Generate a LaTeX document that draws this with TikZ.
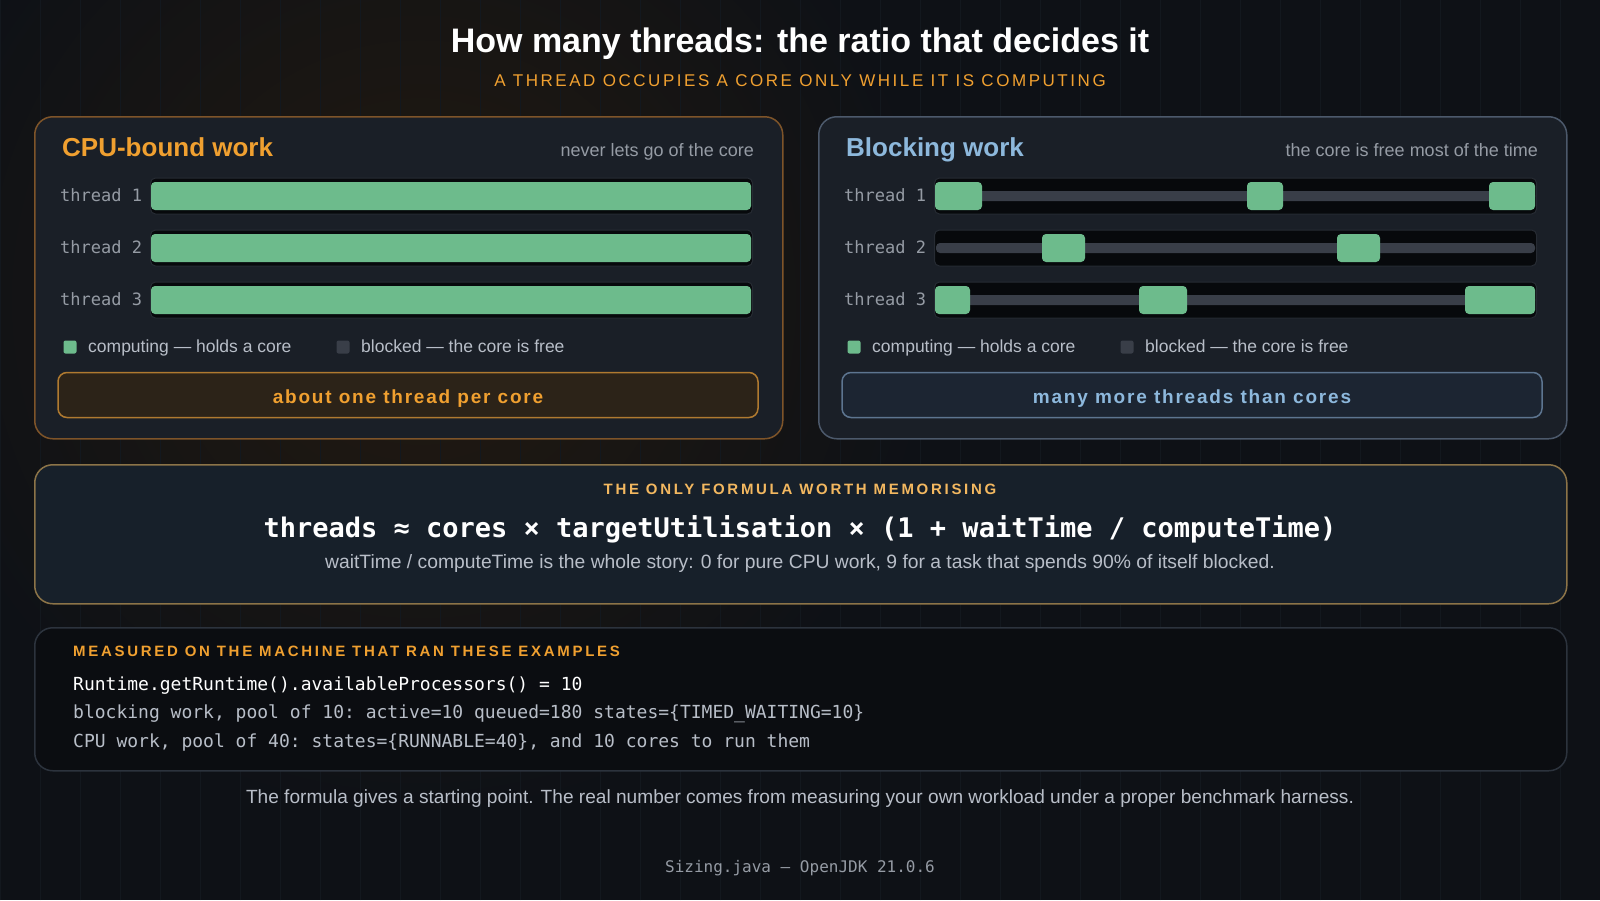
\documentclass[tikz,border=0pt]{standalone}
\usepackage{fontspec}
\setmainfont{Liberation Sans}
\setmonofont{DejaVu Sans Mono}
\newfontfamily\spacedfont[LetterSpace=15]{Liberation Sans}
\newfontfamily\widefont[LetterSpace=18]{Liberation Sans}
\newfontfamily\btnfont[LetterSpace=9.5]{Liberation Sans}
\usetikzlibrary{
  calc,
  positioning,
}
\definecolor{bgdark}{HTML}{0E1116}
\definecolor{glow}{HTML}{231A10}
\definecolor{gridline}{HTML}{13181E}
\definecolor{panelfill}{HTML}{1A1F27}
\definecolor{cpuedge}{HTML}{7E5429}
\definecolor{blockedge}{HTML}{4C596B}
\definecolor{accent}{HTML}{F0A030}
\definecolor{skyblue}{HTML}{8DB8DC}
\definecolor{computing}{HTML}{6DBB8C}
\definecolor{trackfill}{HTML}{07090C}
\definecolor{trackedge}{HTML}{262B33}
\definecolor{idleline}{HTML}{393E48}
\definecolor{mutedtext}{HTML}{959BA4}
\definecolor{softtext}{HTML}{B8BEC8}
\definecolor{cpubtnfill}{HTML}{2C2318}
\definecolor{cpubtnedge}{HTML}{B07A30}
\definecolor{blkbtnfill}{HTML}{1C2532}
\definecolor{blkbtnedge}{HTML}{5D7590}
\definecolor{formulafill}{HTML}{17202A}
\definecolor{formulaedge}{HTML}{8C7448}
\definecolor{formulahead}{HTML}{F3B860}
\definecolor{codefill}{HTML}{0B0D11}
\definecolor{codeedge}{HTML}{2C333D}
\tikzstyle{panel} = [
  rounded corners=18pt,
  line width=1.5pt,
  fill=panelfill,
  anchor=north west,
  inner sep=0pt,
]
\tikzstyle{track} = [
  rounded corners=5pt,
  fill=trackfill,
  draw=trackedge,
  line width=1pt,
  minimum width=602pt,
  minimum height=36pt,
  anchor=west,
  inner sep=0pt,
]
\tikzstyle{threadlabel} = [
  font=\ttfamily\fontsize{17}{20}\selectfont,
  text=mutedtext,
  anchor=base west,
  inner sep=0pt,
]
\tikzstyle{legendbox} = [
  rounded corners=2pt,
  minimum size=13pt,
  inner sep=0pt,
]
\tikzstyle{legendtext} = [
  font=\fontsize{17.5}{20}\selectfont,
  text=softtext,
  anchor=base west,
  inner sep=0pt,
]
\tikzstyle{button} = [
  rounded corners=9pt,
  line width=1.5pt,
  minimum width=700pt,
  minimum height=45pt,
  text height=18pt,
  text depth=2pt,
  font=\btnfont\bfseries\fontsize{19}{22}\selectfont,
]

\begin{document}
\begin{tikzpicture}[
    x=1pt, y=-1pt,
    paneltitle/.style={font=\bfseries\fontsize{26}{30}\selectfont, anchor=base west, inner sep=0pt},
    panelnote/.style={font=\fontsize{18}{20}\selectfont, text=mutedtext, anchor=base east, inner sep=0pt},
    capshead/.style={font=\widefont\bfseries\fontsize{15}{18}\selectfont, inner sep=0pt},
    codeline/.style={font=\ttfamily\fontsize{18}{22}\selectfont, anchor=west, inner sep=0pt},
  ]
  \useasboundingbox (0,0) rectangle (1600,900);
  \fill[bgdark] (0,0) rectangle (1600,900);
  \shade[inner color=glow, outer color=bgdark] (420,300) circle (520);
  \draw[gridline, line width=0.6pt] (0,0) grid[step=40] (1600,900);

  % header
  \node[font=\bfseries\fontsize{34}{40}\selectfont, text=white] (title) at (800,44) {How many threads: the ratio that decides it};
  \node[font=\spacedfont\fontsize{17}{20}\selectfont, text=accent] (subtitle) at (800,81) {A THREAD OCCUPIES A CORE ONLY WHILE IT IS COMPUTING};

  % the two panels
  \node[panel, draw=cpuedge, minimum width=748pt, minimum height=322pt] (cpu) at (34,116) {};
  \node[panel, draw=blockedge, minimum width=748pt, minimum height=322pt] (blocking) at (818,116) {};
  \node[paneltitle, text=accent] (cputitle) at (62,156) {CPU-bound work};
  \node[panelnote] (cpunote) at (754,156) {never lets go of the core};
  \node[paneltitle, text=skyblue] (blocktitle) at (846,156) {Blocking work};
  \node[panelnote] (blocknote) at (1538,156) {the core is free most of the time};

  \foreach \i/\y in {1/196, 2/248, 3/300} {
    \node[threadlabel] (cpulabel\i) at (60,\y+5) {thread \i};
    \node[track] (cputrack\i) at (150,\y) {};
    \fill[computing, rounded corners=4pt] (151,\y-14) rectangle (751,\y+14);
    \node[threadlabel] (blocklabel\i) at (844,\y+5) {thread \i};
    \node[track] (blocktrack\i) at (934,\y) {};
    \fill[idleline, rounded corners=4pt] (936,\y-5) rectangle (1535,\y+5);
  }
  \foreach \y/\a/\b in {196/935/982, 196/1247/1283, 196/1489/1535,
                       248/1042/1085, 248/1337/1380,
                       300/935/970, 300/1139/1187, 300/1465/1535}
    \fill[computing, rounded corners=4pt] (\a,\y-14) rectangle (\b,\y+14);

  % legends
  \node[legendbox, fill=computing] (cpukeyon) at (70,347) {};
  \node[legendtext] (cpukeyontext) at (88,352) {computing — holds a core};
  \node[legendbox, fill=idleline] (cpukeyoff) at (343,347) {};
  \node[legendtext] (cpukeyofftext) at (361,352) {blocked — the core is free};
  \node[legendbox, fill=computing] (blockkeyon) at (854,347) {};
  \node[legendtext] (blockkeyontext) at (872,352) {computing — holds a core};
  \node[legendbox, fill=idleline] (blockkeyoff) at (1127,347) {};
  \node[legendtext] (blockkeyofftext) at (1145,352) {blocked — the core is free};

  \node[button, fill=cpubtnfill, draw=cpubtnedge, text=accent] (cpubtn) at (408,395) {about one thread per core};
  \node[button, fill=blkbtnfill, draw=blkbtnedge, text=skyblue] (blockbtn) at (1192,395) {many more threads than cores};

  % formula
  \node[panel, fill=formulafill, draw=formulaedge, minimum width=1532pt, minimum height=139pt] (formula) at (34,464) {};
  \node[capshead, text=formulahead] (formulahead) at (800,489) {THE ONLY FORMULA WORTH MEMORISING};
  \node[font=\ttfamily\bfseries\fontsize{27}{32}\selectfont, text=white] (formulatext) at (800,529)
    {threads ≈ cores × targetUtilisation × (1 + waitTime / computeTime)};
  \node[font=\fontsize{19.3}{22}\selectfont, text=softtext] (formulanote) at (800,564)
    {waitTime / computeTime is the whole story: 0 for pure CPU work, 9 for a task that spends 90\% of itself blocked.};

  % measurements
  \node[panel, fill=codefill, draw=codeedge, minimum width=1532pt, minimum height=143pt] (measured) at (34,627) {};
  \node[capshead, text=accent, anchor=west] (measuredhead) at (73,651) {MEASURED ON THE MACHINE THAT RAN THESE EXAMPLES};
  \node[codeline, text=white] (code1) at (73,686) {Runtime.getRuntime().availableProcessors() = 10};
  \node[codeline, text=softtext] (code2) at (73,714) {blocking work, pool of 10: active=10 queued=180 states=\{TIMED\_WAITING=10\}};
  \node[codeline, text=softtext] (code3) at (73,742) {CPU work, pool of 40: states=\{RUNNABLE=40\}, and 10 cores to run them};

  \node[font=\fontsize{19.1}{22}\selectfont, text=softtext] (footer) at (800,799)
    {The formula gives a starting point. The real number comes from measuring your own workload under a proper benchmark harness.};
  \node[font=\ttfamily\fontsize{16}{18}\selectfont, text=mutedtext] (source) at (800,868) {Sizing.java — OpenJDK 21.0.6};
\end{tikzpicture}
\end{document}
